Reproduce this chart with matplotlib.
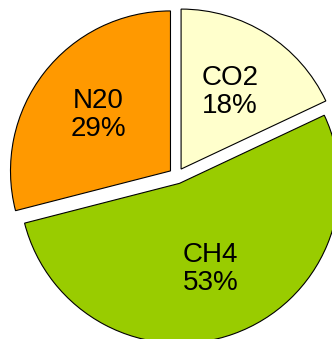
import matplotlib.pyplot as plt

# gas shares
gases = ['CO2', 'CH4', 'N20']
shares = [18, 53, 29]
colors = ['#FFFFCC', '#99CC00', '#FF9900']

plt.rcParams['font.family'] = ['Liberation Sans', 'DejaVu Sans']

fig = plt.figure(figsize=(3.32, 3.39), dpi=100)
ax = fig.add_axes([0, 0, 1, 1])

labels_iter = iter(gases)


def fmt(pct):
    return f'{next(labels_iter)}\n{pct:.0f}%'


wedges, texts, autotexts = ax.pie(
    shares, colors=colors, startangle=90, counterclock=False,
    explode=[0.05, 0.05, 0.05], autopct=fmt, pctdistance=0.57,
    wedgeprops=dict(edgecolor='black', linewidth=0.8),
    textprops=dict(fontsize=20, color='black', linespacing=1.1))

# pie runs off the right and bottom edges like the original
ax.set_aspect('equal')
ax.set_xlim(-1.105, 0.97)
ax.set_ylim(-1.02, 1.099)
ax.axis('off')

fig.savefig('out.png', dpi=100)
